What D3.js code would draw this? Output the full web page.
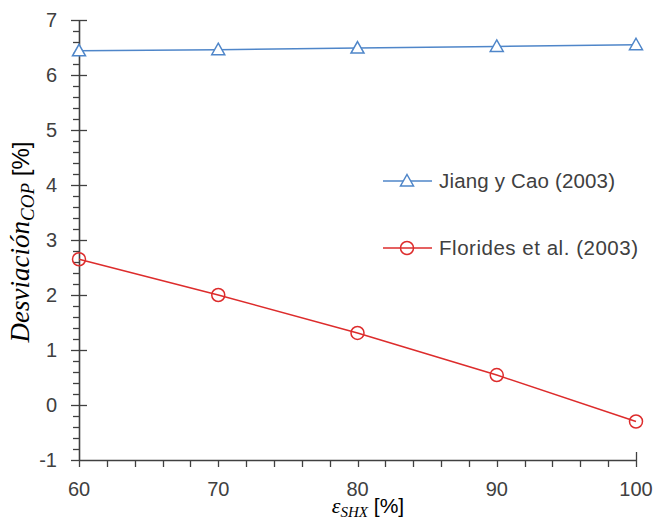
<!DOCTYPE html>
<html><head><meta charset="utf-8">
<script src="https://cdn.jsdelivr.net/npm/d3@7"></script>
<style>body{margin:0;background:#fff}svg{display:block}</style>
</head><body>
<script>
const xValues = [60, 70, 80, 90, 100];
const jiangCao = [6.44, 6.46, 6.49, 6.52, 6.55];
const florides = [2.65, 2.00, 1.31, 0.545, -0.30];
const seriesNames = ["Jiang y Cao (2003)", "Florides et al. (2003)"];
const xTicks = [60, 70, 80, 90, 100];
const yTicks = [-1, 0, 1, 2, 3, 4, 5, 6, 7];

const W = 657, H = 521;
const svg = d3.select("body").append("svg").attr("width", W).attr("height", H);
const x = d3.scaleLinear().domain([60, 100]).range([79, 636]);
const y = d3.scaleLinear().domain([-1, 7]).range([460, 20]);
const axisColor = "#404040";
const font = "'Liberation Sans', Arial, sans-serif";

// y minor ticks
const yMinor = d3.range(-1, 7.0001, 0.2).filter(v => Math.abs(v - Math.round(v)) > 1e-6);
svg.append("g").selectAll("line").data(yMinor).join("line")
  .attr("x1", 73).attr("x2", 79).attr("y1", d => Math.round(y(d)) + 0.5).attr("y2", d => Math.round(y(d)) + 0.5)
  .attr("stroke", axisColor).attr("stroke-width", 1.3);
// y major ticks
svg.append("g").selectAll("line").data(yTicks).join("line")
  .attr("x1", 71).attr("x2", d => d === -1 ? 79 : 87)
  .attr("y1", d => Math.round(y(d)) + 0.5).attr("y2", d => Math.round(y(d)) + 0.5)
  .attr("stroke", axisColor).attr("stroke-width", 1.3);
svg.append("g").selectAll("text").data(yTicks).join("text")
  .attr("x", 57).attr("y", d => y(d)).attr("dy", "0.36em").attr("text-anchor", "end")
  .attr("font-family", font).attr("font-size", 20).attr("fill", "#404040").text(d => d);

// x minor ticks
const xMinor = d3.range(60, 100.0001, 2).filter(v => v % 10 !== 0);
svg.append("g").selectAll("line").data(xMinor).join("line")
  .attr("x1", d => Math.round(x(d)) + 0.5).attr("x2", d => Math.round(x(d)) + 0.5)
  .attr("y1", 460).attr("y2", 467).attr("stroke", axisColor).attr("stroke-width", 1.3);
svg.append("g").selectAll("line").data(xTicks).join("line")
  .attr("x1", d => Math.round(x(d)) + 0.5).attr("x2", d => Math.round(x(d)) + 0.5)
  .attr("y1", d => d === 100 ? 452 : 460).attr("y2", 467).attr("stroke", axisColor).attr("stroke-width", 1.3);
svg.append("g").selectAll("text").data(xTicks).join("text")
  .attr("x", d => x(d)).attr("y", 496).attr("text-anchor", "middle")
  .attr("font-family", font).attr("font-size", 20).attr("fill", "#404040").text(d => d);

// axes lines
svg.append("line").attr("x1", 79.5).attr("x2", 79.5).attr("y1", y(7)).attr("y2", 460)
  .attr("stroke", axisColor).attr("stroke-width", 1.6);
svg.append("line").attr("x1", 79).attr("x2", 637).attr("y1", 460.5).attr("y2", 460.5)
  .attr("stroke", axisColor).attr("stroke-width", 1.6);

const blue = "#4f86c9", red = "#dd2c2c";
const line = d3.line().x(d => x(d[0])).y(d => y(d[1]));
const jData = xValues.map((v, i) => [v, jiangCao[i]]);
const fData = xValues.map((v, i) => [v, florides[i]]);

svg.append("path").datum(jData).attr("d", line).attr("fill", "none").attr("stroke", blue).attr("stroke-width", 1.5);
svg.append("path").datum(fData).attr("d", line).attr("fill", "none").attr("stroke", red).attr("stroke-width", 1.5);

const tri = "M0,-6.5L6.5,5L-6.5,5Z";
svg.append("g").selectAll("path").data(jData).join("path")
  .attr("d", tri).attr("transform", d => `translate(${x(d[0])},${y(d[1])})`)
  .attr("fill", "#fff").attr("stroke", blue).attr("stroke-width", 1.5);
svg.append("g").selectAll("circle").data(fData).join("circle")
  .attr("cx", d => x(d[0])).attr("cy", d => y(d[1])).attr("r", 6.5)
  .attr("fill", "none").attr("stroke", red).attr("stroke-width", 1.5);

// legend
const lg = [{name: seriesNames[0], color: blue, m: "tri", yy: 181}, {name: seriesNames[1], color: red, m: "circ", yy: 248}];
lg.forEach(l => {
  svg.append("line").attr("x1", 383).attr("x2", 432).attr("y1", l.yy).attr("y2", l.yy).attr("stroke", l.color).attr("stroke-width", 1.5);
  if (l.m === "tri") svg.append("path").attr("d", tri).attr("transform", `translate(407,${l.yy})`).attr("fill", "#fff").attr("stroke", l.color).attr("stroke-width", 1.5);
  else svg.append("circle").attr("cx", 407).attr("cy", l.yy).attr("r", 6.5).attr("fill", "none").attr("stroke", l.color).attr("stroke-width", 1.5);
  svg.append("text").attr("x", 439).attr("y", l.yy).attr("dy", "0.36em").attr("font-family", font).attr("font-size", 20.5)
    .attr("textLength", l.m === "tri" ? 176 : 199).attr("fill", "#404040").text(l.name);
});

// axis titles
const serif = "'Liberation Serif', 'DejaVu Serif', serif";
const yt = svg.append("text").attr("transform", "translate(29,242) rotate(-90)").attr("text-anchor", "middle")
  .attr("font-size", 27).attr("fill", "#000");
yt.append("tspan").attr("font-family", serif).attr("font-style", "italic").text("Desviación");
yt.append("tspan").attr("font-family", serif).attr("font-style", "italic").attr("font-size", 19).attr("dy", 5).text("COP");
yt.append("tspan").attr("font-family", font).attr("font-size", 24).attr("dy", -5).text(" [%]");

const xt = svg.append("text").attr("x", 368).attr("y", 513).attr("text-anchor", "middle").attr("font-size", 22).attr("fill", "#000");
xt.append("tspan").attr("font-family", serif).attr("font-style", "italic").text("ε");
xt.append("tspan").attr("font-family", serif).attr("font-style", "italic").attr("font-size", 15).attr("dy", 4).text("SHX");
xt.append("tspan").attr("font-family", font).attr("font-size", 21).attr("dy", -4).text(" [%]");
</script>
</body></html>
